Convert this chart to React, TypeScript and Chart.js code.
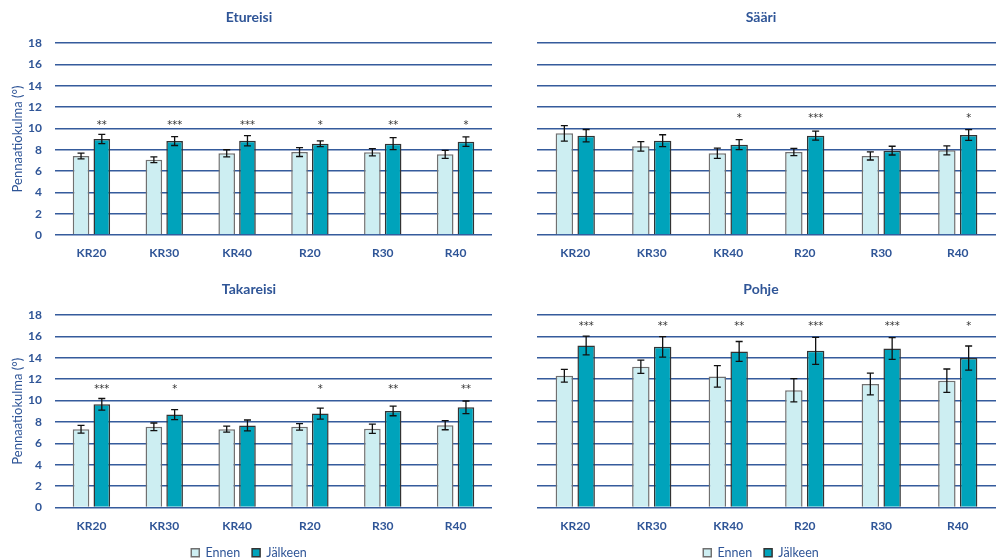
import React, { useEffect, useRef } from 'react';
import { Chart, registerables } from 'chart.js';

Chart.register(...registerables);

const categories = ['KR20', 'KR30', 'KR40', 'R20', 'R30', 'R40'];
const seriesLabels = ['Ennen', 'Jälkeen'];
const yAxisTitle = 'Pennaatiokulma (°)';
const yMin = 0;
const yMax = 18;
const yStep = 2;

// Etureisi
const etureisiEnnen = [7.41, 7.06, 7.66, 7.78, 7.75, 7.56];
const etureisiEnnenSd = [0.27, 0.27, 0.33, 0.42, 0.34, 0.38];
const etureisiJalkeen = [9.0, 8.81, 8.84, 8.56, 8.56, 8.75];
const etureisiJalkeenSd = [0.44, 0.42, 0.48, 0.27, 0.56, 0.45];
const etureisiSig = ['**', '***', '***', '*', '**', '*'];
const etureisiSigLevel = 10.55;

// Sääri
const saariEnnen = [9.53, 8.31, 7.66, 7.78, 7.41, 7.94];
const saariEnnenSd = [0.72, 0.44, 0.48, 0.34, 0.38, 0.42];
const saariJalkeen = [9.31, 8.84, 8.47, 9.31, 7.91, 9.38];
const saariJalkeenSd = [0.58, 0.56, 0.47, 0.42, 0.41, 0.5];
const saariSig = ['', '', '*', '***', '', '*'];
const saariSigLevel = 11.2;

// Takareisi
const takareisiEnnen = [7.32, 7.54, 7.32, 7.54, 7.36, 7.7];
const takareisiEnnenSd = [0.36, 0.36, 0.28, 0.31, 0.43, 0.43];
const takareisiJalkeen = [9.65, 8.69, 7.67, 8.78, 9.03, 9.37];
const takareisiJalkeenSd = [0.54, 0.47, 0.51, 0.51, 0.45, 0.59];
const takareisiSig = ['***', '*', '', '*', '**', '**'];
const takareisiSigLevel = 11.3;

// Pohje
const pohjeEnnen = [12.32, 13.16, 12.26, 10.96, 11.55, 11.86];
const pohjeEnnenSd = [0.59, 0.62, 1.0, 1.09, 1.02, 1.09];
const pohjeJalkeen = [15.15, 15.02, 14.59, 14.65, 14.87, 13.97];
const pohjeJalkeenSd = [0.88, 0.95, 0.93, 1.26, 1.02, 1.13];
const pohjeSig = ['***', '**', '**', '***', '***', '*'];
const pohjeSigLevel = 17.2;

const BLUE = '#2f5597';
const GRID = '#355b9c';
const ENNEN_FILL = '#cdeef2';
const ENNEN_BORDER = '#707070';
const JALKEEN_FILL = '#00a3bb';
const JALKEEN_BORDER = '#333333';
const FONT = 'Lato, "Open Sans", sans-serif';

type PanelProps = {
  title: string;
  ennen: number[];
  ennenSd: number[];
  jalkeen: number[];
  jalkeenSd: number[];
  sig: string[];
  sigLevel: number;
  showYTitle: boolean;
  showLegend: boolean;
  left: number;
  top: number;
  width: number;
  height: number;
  padLeft: number;
  padRight: number;
  padBottom: number;
  yScaleWidth: number;
  yTickPad: number;
  xScaleHeight: number;
};

function Panel(p: PanelProps) {
  const ref = useRef<HTMLCanvasElement>(null);
  useEffect(() => {
    const errPlugin = {
      id: 'errSig',
      afterDatasetsDraw(chart: any) {
        const ctx = chart.ctx;
        const ys = chart.scales.y;
        ctx.save();
        [p.ennenSd, p.jalkeenSd].forEach((sd, di) => {
          const meta = chart.getDatasetMeta(di);
          const vals = chart.data.datasets[di].data as number[];
          meta.data.forEach((bar: any, i: number) => {
            const v = vals[i];
            const e = sd[i];
            const x = bar.x;
            const y1 = ys.getPixelForValue(v + e);
            const y2 = ys.getPixelForValue(v - e);
            ctx.strokeStyle = '#111111';
            ctx.lineWidth = 1.3;
            ctx.beginPath();
            ctx.moveTo(x, y1);
            ctx.lineTo(x, y2);
            ctx.moveTo(x - 3.5, y1);
            ctx.lineTo(x + 3.5, y1);
            ctx.moveTo(x - 3.5, y2);
            ctx.lineTo(x + 3.5, y2);
            ctx.stroke();
          });
        });
        const meta = chart.getDatasetMeta(1);
        ctx.fillStyle = '#333333';
        ctx.font = '10px "DejaVu Sans"';
        ctx.textAlign = 'center';
        ctx.textBaseline = 'middle';
        meta.data.forEach((bar: any, i: number) => {
          if (p.sig[i]) ctx.fillText(p.sig[i], bar.x, ys.getPixelForValue(p.sigLevel) + 3);
        });
        ctx.restore();
      },
    };

    const chart = new Chart(ref.current as HTMLCanvasElement, {
      type: 'bar',
      data: {
        labels: categories,
        datasets: [
          {
            label: seriesLabels[0],
            data: p.ennen,
            backgroundColor: ENNEN_FILL,
            borderColor: ENNEN_BORDER,
            borderWidth: 1.5,
            categoryPercentage: 0.57,
            barPercentage: 0.8,
          },
          {
            label: seriesLabels[1],
            data: p.jalkeen,
            backgroundColor: JALKEEN_FILL,
            borderColor: JALKEEN_BORDER,
            borderWidth: 1.5,
            categoryPercentage: 0.57,
            barPercentage: 0.8,
          },
        ],
      },
      options: {
        animation: false,
        responsive: false,
        maintainAspectRatio: false,
        devicePixelRatio: 1,
        layout: { padding: { left: p.padLeft, right: p.padRight, top: 0, bottom: p.padBottom } },
        plugins: {
          title: {
            display: true,
            text: p.title,
            color: BLUE,
            font: { family: FONT, size: 14, weight: 'bold' },
            padding: { top: 9, bottom: 17.2 },
          },
          legend: {
            display: p.showLegend,
            position: 'bottom',
            labels: {
              boxWidth: 8,
              boxHeight: 8,
              padding: 12,
              color: BLUE,
              font: { family: FONT, size: 12.5 },
            },
          },
          tooltip: { enabled: false },
        },
        scales: {
          x: {
            grid: { display: false, drawTicks: false },
            border: { display: false },
            ticks: { color: BLUE, font: { family: FONT, size: 12, weight: 'bold' }, padding: 11 },
            afterFit: (s: any) => {
              s.height = p.xScaleHeight;
            },
          },
          y: {
            min: yMin,
            max: yMax,
            ticks: {
              stepSize: yStep,
              color: BLUE,
              padding: p.yTickPad,
              font: { family: FONT, size: 12, weight: 'bold' },
            },
            grid: { color: GRID, lineWidth: 1.5, drawTicks: false },
            border: { display: false },
            title: {
              display: p.showYTitle,
              text: yAxisTitle,
              color: BLUE,
              font: { family: FONT, size: 13 },
              padding: { top: 4, bottom: 4 },
            },
            afterFit: (s: any) => {
              s.width = p.yScaleWidth;
            },
          },
        },
      },
      plugins: [errPlugin],
    } as any);
    return () => chart.destroy();
  }, []);
  return (
    <canvas
      ref={ref}
      width={p.width}
      height={p.height}
      style={{ position: 'absolute', left: p.left, top: p.top, width: p.width, height: p.height }}
    />
  );
}

export default function App() {
  const leftCol = { left: 0, width: 499, padLeft: 6, padRight: 7, yScaleWidth: 49, yTickPad: 13, showYTitle: true };
  const rightCol = { left: 505, width: 512, padLeft: 21, padRight: 21, yScaleWidth: 11, yTickPad: 14, showYTitle: false };
  const topRow = { top: 0, height: 270, padBottom: 10, xScaleHeight: 25, showLegend: false };
  const bottomRow = { top: 272, height: 297, padBottom: 0, xScaleHeight: 27, showLegend: true };
  return (
    <div
      style={{
        position: 'absolute',
        left: 0,
        top: 0,
        width: 999,
        height: 560,
        overflow: 'hidden',
        background: '#ffffff',
      }}
    >
      <Panel
        title="Etureisi"
        ennen={etureisiEnnen}
        ennenSd={etureisiEnnenSd}
        jalkeen={etureisiJalkeen}
        jalkeenSd={etureisiJalkeenSd}
        sig={etureisiSig}
        sigLevel={etureisiSigLevel}
        {...leftCol}
        {...topRow}
      />
      <Panel
        title="Sääri"
        ennen={saariEnnen}
        ennenSd={saariEnnenSd}
        jalkeen={saariJalkeen}
        jalkeenSd={saariJalkeenSd}
        sig={saariSig}
        sigLevel={saariSigLevel}
        {...rightCol}
        {...topRow}
      />
      <Panel
        title="Takareisi"
        ennen={takareisiEnnen}
        ennenSd={takareisiEnnenSd}
        jalkeen={takareisiJalkeen}
        jalkeenSd={takareisiJalkeenSd}
        sig={takareisiSig}
        sigLevel={takareisiSigLevel}
        {...leftCol}
        {...bottomRow}
      />
      <Panel
        title="Pohje"
        ennen={pohjeEnnen}
        ennenSd={pohjeEnnenSd}
        jalkeen={pohjeJalkeen}
        jalkeenSd={pohjeJalkeenSd}
        sig={pohjeSig}
        sigLevel={pohjeSigLevel}
        {...rightCol}
        {...bottomRow}
      />
    </div>
  );
}
